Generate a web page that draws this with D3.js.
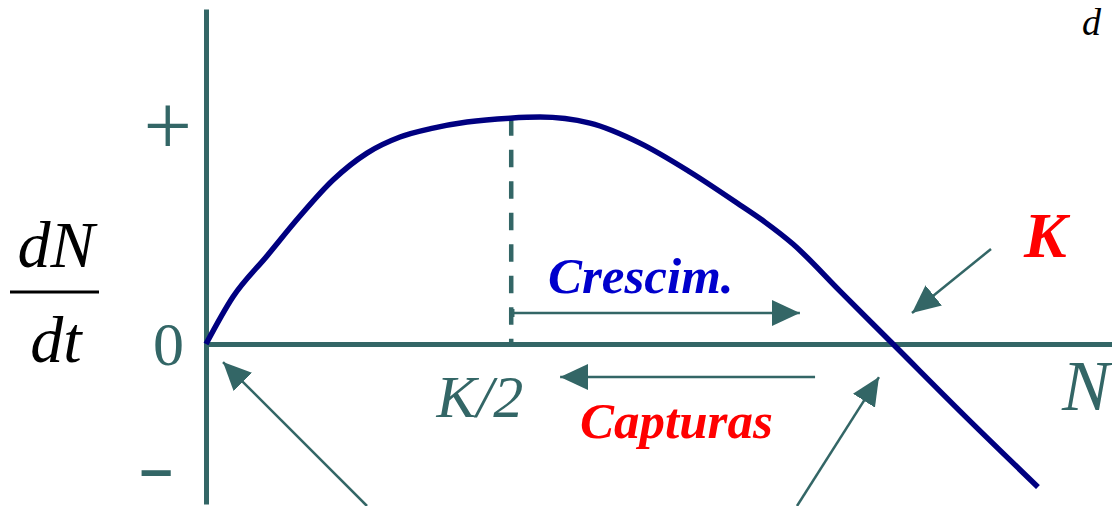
<!DOCTYPE html>
<html>
<head>
<meta charset="utf-8">
<script src="https://cdn.jsdelivr.net/npm/d3@7"></script>
<style>
  body { margin: 0; background: #fff; }
  svg { display: block; }
</style>
</head>
<body>
<svg id="chart" width="1112" height="506" font-family="'Liberation Serif', 'DejaVu Serif', serif"></svg>
<script>
// production curve, N in units where K ~ 10, dN/dt in units where "+" = 1
const curveN  = [0, 0.39, 0.885, 1.364, 1.843, 2.337, 2.816, 3.295, 3.788, 4.412, 4.848, 5.573, 6.299, 7.025, 7.75, 8.113, 8.519, 9.202, 9.971, 11.016, 12.076];
const curveDN = [0, 0.217, 0.406, 0.59, 0.756, 0.88, 0.954, 0.995, 1.023, 1.041, 1.046, 1.018, 0.926, 0.793, 0.641, 0.562, 0.461, 0.244, 0, -0.332, -0.659];

const yTickValues = [1, 0, -0.594];
const yTickLabels = ["+", "0", "-"];

const kHalf = 4.43;
const kValue = 9.971;
const crescimArrow = [4.43, 8.62];   // from, to (N)
const capturasArrow = [8.84, 5.14];  // from, to (N)

const teal = "#336666";
const navy = "#000080";

const svg = d3.select("#chart");

const x = d3.scaleLinear().domain([0, 13.15]).range([206, 1112]);
const y = d3.scaleLinear().domain([-0.737, 1.544]).range([504, 9]);

// axes (no ticks, just the lines)
svg.append("g")
    .attr("transform", "translate(0," + y(0) + ")")
    .call(d3.axisBottom(x).tickValues([]).tickSizeOuter(0));
svg.append("g")
    .attr("transform", "translate(" + x(0) + ",0)")
    .call(d3.axisLeft(y).tickValues([]).tickSizeOuter(0));
svg.selectAll(".domain").attr("stroke", teal).attr("stroke-width", 5);

// arrow head marker
svg.append("defs").append("marker")
    .attr("id", "head")
    .attr("viewBox", "0 0 28 26")
    .attr("refX", 28).attr("refY", 13)
    .attr("markerWidth", 28).attr("markerHeight", 26)
    .attr("markerUnits", "userSpaceOnUse")
    .attr("orient", "auto")
  .append("path")
    .attr("d", "M0,0L28,13L0,26Z")
    .attr("fill", teal);

// dashed line at K/2
svg.append("line")
    .attr("x1", x(kHalf)).attr("x2", x(kHalf))
    .attr("y1", y(1.04)).attr("y2", y(0))
    .attr("stroke", teal).attr("stroke-width", 4.5)
    .attr("stroke-dasharray", "17.5,14");

// curve
const pts = curveN.map((n, i) => [n, curveDN[i]]);
svg.append("path")
    .datum(pts)
    .attr("fill", "none")
    .attr("stroke", navy)
    .attr("stroke-width", 5.5)
    .attr("d", d3.line().x(d => x(d[0])).y(d => y(d[1])).curve(d3.curveMonotoneX));

// y tick labels
const yLabelX = [192, 184, 175];
const yLabelSize = [86, 62, 68];
const yLabelDy = ["0.33em", "0.33em", "0.24em"];
const yLabelStretch = [1, 1, 1.65];
svg.selectAll(".ylab")
    .data(yTickValues)
    .enter().append("text")
    .attr("class", "ylab")
    .attr("transform", (d, i) => "translate(" + yLabelX[i] + "," + y(d) + ") scale(" + yLabelStretch[i] + ",1)")
    .attr("dy", (d, i) => yLabelDy[i])
    .attr("text-anchor", "end")
    .attr("fill", teal)
    .attr("font-weight", (d, i) => i === 2 ? "bold" : "normal")
    .attr("font-size", (d, i) => yLabelSize[i])
    .text((d, i) => yTickLabels[i]);

// y title: dN / dt
svg.append("text").attr("x", 56).attr("y", 267).attr("text-anchor", "middle")
    .attr("font-style", "italic").attr("font-size", 66).text("dN");
svg.append("line").attr("x1", 10).attr("x2", 99).attr("y1", 292).attr("y2", 292)
    .attr("stroke", "#000").attr("stroke-width", 3);
svg.append("text").attr("x", 56).attr("y", 362).attr("text-anchor", "middle")
    .attr("font-style", "italic").attr("font-size", 66).text("dt");

// cut off formula at top right
svg.append("text").attr("x", 1082).attr("y", 35)
    .attr("font-style", "italic").attr("font-size", 38).text("d");

// x labels
svg.append("text").attr("x", x(kHalf) + 12).attr("y", 417).attr("text-anchor", "end")
    .attr("fill", teal).attr("font-style", "italic").attr("font-size", 60).text("K/2");
svg.append("text").attr("x", 1062).attr("y", 410)
    .attr("fill", teal).attr("font-style", "italic").attr("font-size", 72).text("N");

// Crescim. arrow
const yCres = 313;
svg.append("line")
    .attr("x1", x(crescimArrow[0])).attr("x2", x(crescimArrow[1]))
    .attr("y1", yCres).attr("y2", yCres)
    .attr("stroke", teal).attr("stroke-width", 2.5)
    .attr("marker-end", "url(#head)");
svg.append("line")
    .attr("x1", x(crescimArrow[0]) + 2).attr("x2", x(crescimArrow[0]) + 2)
    .attr("y1", yCres - 4).attr("y2", yCres + 4)
    .attr("stroke", teal).attr("stroke-width", 2.5);
svg.append("text").attr("x", 548).attr("y", 293)
    .attr("fill", "#0000cc").attr("font-weight", "bold").attr("font-style", "italic")
    .attr("font-size", 51).text("Crescim.");

// Capturas arrow
const yCap = 377;
svg.append("line")
    .attr("x1", x(capturasArrow[0])).attr("x2", x(capturasArrow[1]))
    .attr("y1", yCap).attr("y2", yCap)
    .attr("stroke", teal).attr("stroke-width", 2.5)
    .attr("marker-end", "url(#head)");
svg.append("text").attr("x", 580).attr("y", 438)
    .attr("fill", "#ff0000").attr("font-weight", "bold").attr("font-style", "italic")
    .attr("font-size", 51).text("Capturas");

// K label and pointer
svg.append("text").attr("x", 1024).attr("y", 257)
    .attr("fill", "#ff0000").attr("font-weight", "bold").attr("font-style", "italic")
    .attr("font-size", 64).text("K");
svg.append("line")
    .attr("x1", 991).attr("y1", 249)
    .attr("x2", x(kValue) + 19).attr("y2", y(0) - 31)
    .attr("stroke", teal).attr("stroke-width", 2.5)
    .attr("marker-end", "url(#head)");

// equilibrium pointers from below
svg.append("line")
    .attr("x1", 367).attr("y1", 506)
    .attr("x2", x(0) + 17).attr("y2", y(0) + 18)
    .attr("stroke", teal).attr("stroke-width", 2.5)
    .attr("marker-end", "url(#head)");
svg.append("line")
    .attr("x1", 797).attr("y1", 506)
    .attr("x2", x(kValue) - 14).attr("y2", y(0) + 33)
    .attr("stroke", teal).attr("stroke-width", 2.5)
    .attr("marker-end", "url(#head)");
</script>
</body>
</html>
